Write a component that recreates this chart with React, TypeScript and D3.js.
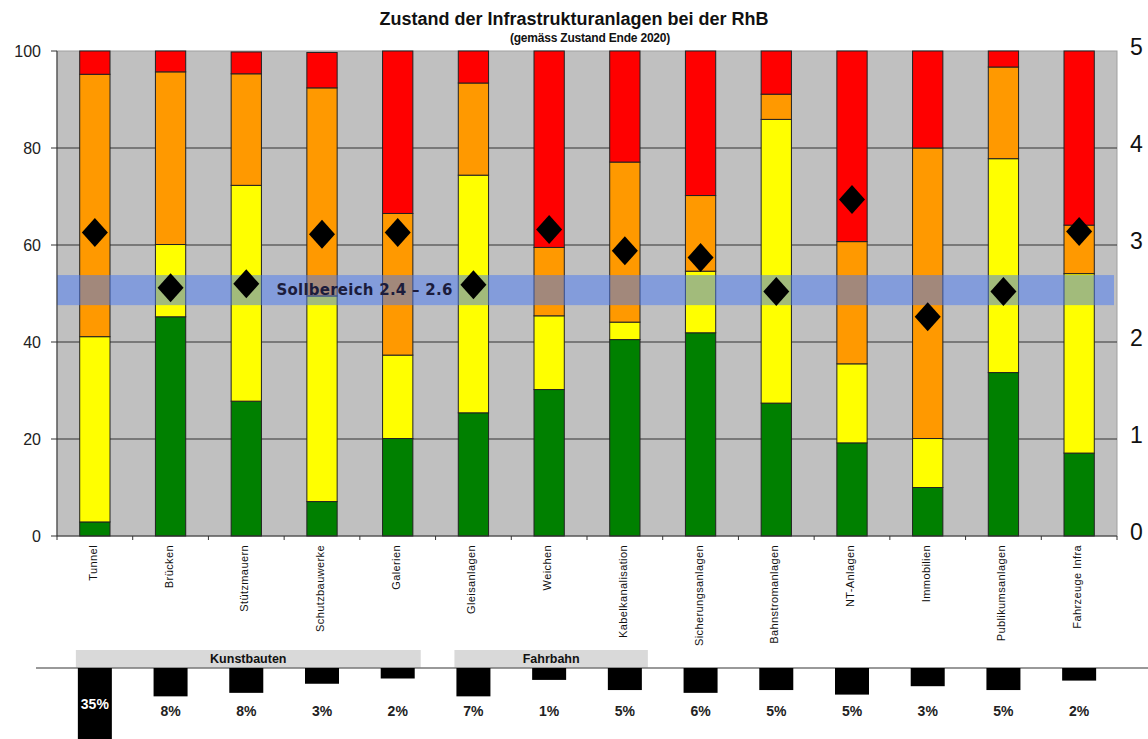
import React from 'react';
import * as d3 from 'd3';

// Anlagenkategorien
const categories = [
  'Tunnel', 'Brücken', 'Stützmauern', 'Schutzbauwerke', 'Galerien', 'Gleisanlagen', 'Weichen',
  'Kabelkanalisation', 'Sicherungsanlagen', 'Bahnstromanlagen', 'NT-Anlagen', 'Immobilien',
  'Publikumsanlagen', 'Fahrzeuge Infra',
];

// Anteile je Zustandsklasse in % (gut -> schlecht)
const green = [2.9, 45.2, 27.8, 7.1, 20.1, 25.4, 30.2, 40.5, 41.9, 27.4, 19.2, 10.0, 33.7, 17.1];
const yellow = [38.2, 14.9, 44.5, 42.4, 17.2, 49.0, 15.2, 3.6, 12.7, 58.5, 16.3, 10.1, 44.1, 37.0];
const orange = [54.1, 35.6, 23.0, 42.9, 29.2, 19.0, 14.1, 33.0, 15.6, 5.2, 25.2, 59.9, 18.9, 10.0];
const red = [4.8, 4.3, 4.5, 7.3, 33.5, 6.6, 40.5, 22.9, 29.8, 8.9, 39.3, 20.0, 3.3, 35.9];

// Durchschnittlicher Zustand (rechte Achse 0-5)
const average = [3.13, 2.56, 2.60, 3.11, 3.13, 2.59, 3.16, 2.94, 2.87, 2.52, 3.47, 2.26, 2.52, 3.14];

// Sollbereich
const targetLow = 2.38;
const targetHigh = 2.69;

// Anteil am Wiederbeschaffungswert (Balken unten)
const shareValues = [35, 8.1, 7.1, 4.5, 3.0, 8.1, 3.4, 6.3, 7.1, 6.3, 7.6, 5.2, 6.3, 3.6];
const shareLabels = ['35%', '8%', '8%', '3%', '2%', '7%', '1%', '5%', '6%', '5%', '5%', '3%', '5%', '2%'];

const groups = [
  { name: 'Kunstbauten', from: 'Tunnel', to: 'Galerien' },
  { name: 'Fahrbahn', from: 'Gleisanlagen', to: 'Kabelkanalisation' },
];

const leftTicks = [0, 20, 40, 60, 80, 100];
const rightTicks = [0, 1, 2, 3, 4, 5];

const keys = ['green', 'yellow', 'orange', 'red'];
const colors: Record<string, string> = { green: '#008000', yellow: '#ffff00', orange: '#ff9900', red: '#ff0000' };

const W = 1148;
const H = 739;
const font = '"Liberation Sans", Arial, sans-serif';

export default function App() {
  const left = 57, right = 1117, top = 51, bottom = 536;
  const x = d3.scaleBand().domain(categories).range([left, right]).paddingInner(0.6).paddingOuter(0.3);
  const y = d3.scaleLinear().domain([0, 100]).range([bottom, top]);
  const y2 = d3.scaleLinear().domain([0, 5]).range([bottom, top]);
  const bw = x.bandwidth();
  const step = x.step();

  const rows = categories.map((c, i) => ({ cat: c, green: green[i], yellow: yellow[i], orange: orange[i], red: red[i] }));
  const series = d3.stack<any>().keys(keys)(rows);

  const baseY = 668;
  const depth = d3.scaleLinear().domain([0, 10]).range([0, 35]);
  const sbw = 34;

  return (
    <svg width={W} height={H} style={{ position: 'absolute', left: 0, top: 0, background: '#fff' }} fontFamily={font}>
      {/* Titel */}
      <text x={574} y={25} textAnchor="middle" fontSize={18} fontWeight="bold" fill="#111">
        Zustand der Infrastrukturanlagen bei der RhB
      </text>
      <text x={590} y={42} textAnchor="middle" fontSize={12} fontWeight="bold" fill="#111" letterSpacing={-0.2}>
        (gemäss Zustand Ende 2020)
      </text>

      {/* Plotfläche */}
      <rect x={left} y={top} width={right - left} height={bottom - top} fill="#c0c0c0" stroke="#a0a0a0" />
      {leftTicks.filter(t => t > 0 && t < 100).map(t => (
        <line key={t} x1={left} x2={right} y1={y(t)} y2={y(t)} stroke="#333" strokeWidth={1.2} />
      ))}

      {/* gestapelte Balken */}
      {series.map(s => (
        <g key={s.key}>
          {s.map((d, i) => (
            <rect key={i} x={x(categories[i])} y={y(d[1])} width={bw} height={y(d[0]) - y(d[1])}
              fill={colors[s.key]} stroke="#222" strokeWidth={1} />
          ))}
        </g>
      ))}

      {/* Sollbereich */}
      <rect x={left} y={y2(targetHigh)} width={right - left - 3} height={y2(targetLow) - y2(targetHigh)}
        fill="rgb(70,120,245)" opacity={0.5} />
      <text x={(x('Stützmauern') as number) + bw + 15} y={(y2(targetHigh) + y2(targetLow)) / 2 + 5}
        fontSize={15} fontWeight="bold" fill="#1c1c3c" letterSpacing={0.25}
        fontFamily='"DejaVu Sans", Verdana, sans-serif'>
        Sollbereich 2.4 – 2.6
      </text>

      {/* Durchschnitt */}
      {average.map((v, i) => {
        const cx = (x(categories[i]) as number) + bw / 2;
        const cy = y2(v);
        return <path key={i} d={`M${cx},${cy - 14.5}L${cx + 13},${cy}L${cx},${cy + 14.5}L${cx - 13},${cy}Z`} fill="#000" />;
      })}

      {/* Achsen */}
      <line x1={left} x2={left} y1={top} y2={bottom} stroke="#333" />
      <line x1={left} x2={right} y1={bottom} y2={bottom} stroke="#333" />
      {leftTicks.map(t => (
        <g key={t}>
          <line x1={left - 6} x2={left} y1={y(t)} y2={y(t)} stroke="#333" />
          <text x={41} y={y(t) + 6} textAnchor="end" fontSize={16} fill="#222">{t}</text>
        </g>
      ))}
      {rightTicks.map(t => (
        <text key={t} x={1130} y={y2(t) + 4} fontSize={23} fill="#111">{t}</text>
      ))}
      {d3.range(categories.length + 1).map(i => (
        <line key={i} x1={left + i * step} x2={left + i * step} y1={bottom} y2={bottom + 4} stroke="#333" />
      ))}
      {categories.map(c => {
        const cx = (x(c) as number) + bw / 2 + 2;
        return (
          <text key={c} transform={`translate(${cx},545) rotate(-90)`} textAnchor="end" fontSize={11}
            letterSpacing={0.4} fill="#111">{c}</text>
        );
      })}

      {/* Anteile unten */}
      {groups.map(g => {
        const x0 = (x(g.from) as number) + bw / 2 - 19;
        const x1 = (x(g.to) as number) + bw / 2 + 23;
        return (
          <g key={g.name}>
            <rect x={x0} y={baseY - 18} width={x1 - x0} height={18} fill="#d9d9d9" />
            <text x={(x0 + x1) / 2} y={baseY - 5} textAnchor="middle" fontSize={12.5} fontWeight="bold" fill="#111">{g.name}</text>
          </g>
        );
      })}
      <line x1={36} x2={W} y1={baseY} y2={baseY} stroke="#777" strokeWidth={1.5} />
      {shareValues.map((v, i) => {
        const cx = (x(categories[i]) as number) + bw / 2;
        return <rect key={i} x={cx - sbw / 2} y={baseY} width={sbw} height={Math.min(depth(v), H - baseY)} fill="#000" />;
      })}
      {shareLabels.map((l, i) => {
        const cx = (x(categories[i]) as number) + bw / 2;
        const inside = depth(shareValues[i]) > 45;
        return (
          <text key={i} x={cx} y={inside ? 709 : 716} textAnchor="middle" fontSize={14} fontWeight="bold"
            fill={inside ? '#fff' : '#222'}>{l}</text>
        );
      })}
    </svg>
  );
}
